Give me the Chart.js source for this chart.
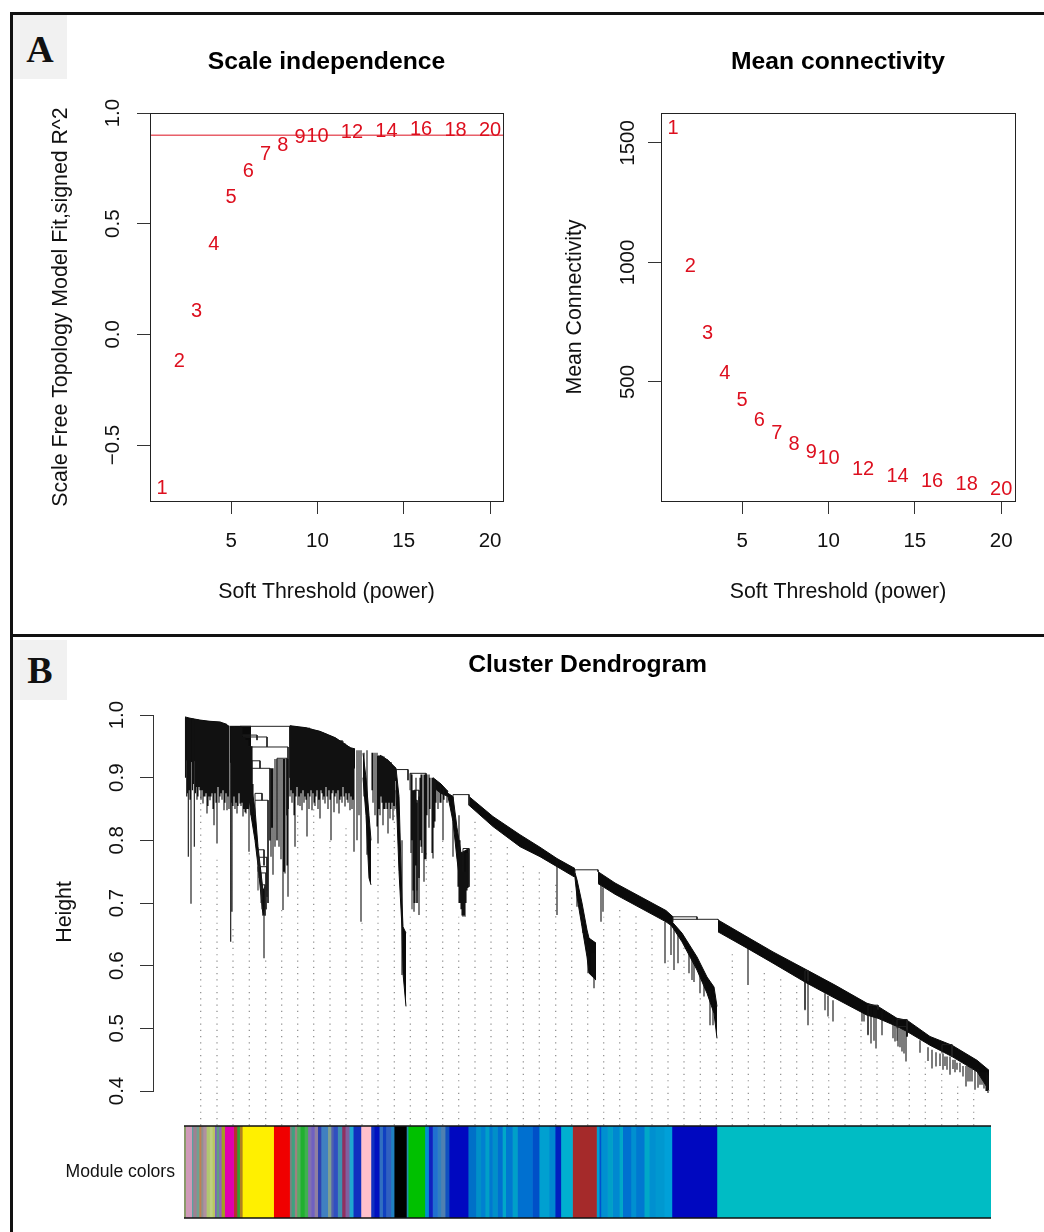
<!DOCTYPE html>
<html>
<head>
<meta charset="utf-8">
<title>WGCNA soft threshold and cluster dendrogram</title>
<script src="https://cdn.jsdelivr.net/npm/chart.js@4/dist/chart.umd.min.js"></script>
<style>
  html, body { margin: 0; padding: 0; background: #fff; }
  body { position: relative; width: 1044px; height: 1232px; overflow: hidden; }
  canvas { position: absolute; }
  .rule { position: absolute; background: #111; }
  .tag {
    position: absolute; left: 13px; width: 54px; background: #f1f1f1;
    font: bold 38px "Liberation Serif", serif; color: #111;
    display: flex; align-items: center; justify-content: center;
  }
</style>
</head>
<body>
<div class="rule" style="left:10px;top:12px;width:1034px;height:3px"></div>
<div class="rule" style="left:10px;top:12px;width:3px;height:1220px"></div>
<div class="rule" style="left:10px;top:634px;width:1034px;height:3px"></div>
<div class="tag" style="top:15px;height:61px;padding-top:3px">A</div>
<div class="tag" style="top:640px;height:60px">B</div>
<canvas id="scaleChart" width="516" height="620" style="left:12px;top:15px"></canvas>
<canvas id="connectChart" width="504" height="620" style="left:540px;top:15px"></canvas>
<canvas id="dendroChart" width="1032" height="493" style="left:12px;top:637px"></canvas>
<canvas id="moduleChart" width="1044" height="140" style="left:0;top:1100px"></canvas>

<script>
const SANS = '"Liberation Sans", Arial, sans-serif';

// Panel A
const powers = [1, 2, 3, 4, 5, 6, 7, 8, 9, 10, 12, 14, 16, 18, 20];
const signedR2 = [-0.69, -0.12, 0.11, 0.41, 0.625, 0.74, 0.815, 0.86, 0.895, 0.9, 0.915, 0.92, 0.93, 0.925, 0.925];
const meanConnectivity = [1563, 988, 709, 538, 425, 345, 287, 241, 211, 182, 136, 107, 86, 74, 56];
const r2Cutoff = 0.9;
const powerTicks = [5, 10, 15, 20];
const r2Ticks = [-0.5, 0, 0.5, 1];
const connectivityTicks = [500, 1000, 1500];

// Panel B: x is leaf position along the dendrogram, y is merge height
const heightTicks = [0.4, 0.5, 0.6, 0.7, 0.8, 0.9, 1.0];

// solid black parts of the tree, each one a top and a bottom outline
const ribbonLeaf = [
  [0, 5, 15, 25, 35, 42],
  [45, 52, 60, 66],
  [105, 120, 135, 150, 165, 170],
  [195, 203, 211],
  [248, 256, 263],
  [284, 308, 335, 355, 372, 390],
  [413, 430, 481, 488],
  [533, 562, 588, 622, 650, 682, 693, 712, 722, 745, 767, 792, 804],
  [390, 392, 397, 402, 404, 411],
  [486, 497, 512, 522, 529, 532],
  [211, 214, 217, 218, 221],
  [263, 268, 272, 276, 284],
  [62, 66, 70, 73, 78, 80],
  [178, 181, 184, 186]
];
const ribbonTop = [
  [0.997, 0.995, 0.992, 0.99, 0.989, 0.985],
  [0.982, 0.982, 0.982, 0.982],
  [0.983, 0.98, 0.974, 0.964, 0.948, 0.946],
  [0.936, 0.928, 0.915],
  [0.9, 0.89, 0.878],
  [0.87, 0.838, 0.809, 0.789, 0.771, 0.755],
  [0.75, 0.732, 0.688, 0.678],
  [0.673, 0.646, 0.622, 0.593, 0.569, 0.54, 0.535, 0.516, 0.513, 0.487, 0.473, 0.449, 0.433],
  [0.748, 0.737, 0.7, 0.657, 0.644, 0.636],
  [0.672, 0.652, 0.614, 0.582, 0.566, 0.535],
  [0.915, 0.87, 0.7, 0.662, 0.652],
  [0.875, 0.87, 0.82, 0.78, 0.787],
  [0.94, 0.89, 0.85, 0.79, 0.72, 0.726],
  [0.939, 0.9, 0.84, 0.8]
];
const ribbonBottom = [
  [0.93, 0.925, 0.93, 0.93, 0.935, 0.92],
  [0.925, 0.92, 0.925, 0.92],
  [0.93, 0.935, 0.935, 0.93, 0.92, 0.915],
  [0.91, 0.905, 0.895],
  [0.885, 0.875, 0.87],
  [0.856, 0.822, 0.79, 0.774, 0.758, 0.741],
  [0.731, 0.714, 0.67, 0.662],
  [0.654, 0.628, 0.604, 0.572, 0.548, 0.521, 0.516, 0.503, 0.495, 0.473, 0.455, 0.431, 0.401],
  [0.74, 0.71, 0.662, 0.614, 0.588, 0.577],
  [0.665, 0.638, 0.593, 0.556, 0.524, 0.484],
  [0.88, 0.75, 0.66, 0.588, 0.535],
  [0.87, 0.83, 0.77, 0.72, 0.726],
  [0.9, 0.84, 0.8, 0.76, 0.68, 0.694],
  [0.9, 0.84, 0.74, 0.729]
];

// single hanging branches
const dropLeaf = [1.7, 3.3, 6, 9.3, 12, 15, 18, 20, 22, 25, 27, 29, 31, 32, 35, 37, 39, 42, 44, 45.7, 47, 50, 52, 55, 56, 58, 60, 61, 63, 64, 66, 68,
  79, 86, 88, 92, 98, 100, 103, 105, 107, 109, 110, 113, 115, 117, 119, 122, 124, 127, 130, 133, 135, 138, 140, 143, 146, 149, 152, 154, 157, 160, 163, 165, 167, 169,
  172, 176, 182, 190, 192, 193, 195, 198, 200, 203, 205, 208, 217, 227, 229, 231, 234, 236, 239, 241, 244, 248, 250, 253, 256, 258, 268, 273, 278, 280,
  372, 392, 398, 401, 403, 407, 409, 416, 418, 480, 486, 489, 493, 504, 507, 509, 515, 519, 525, 528,
  563, 620, 623, 640, 643, 648, 677, 679, 683, 686, 689, 691, 697, 708, 710, 713, 717, 721, 722,
  735, 743, 747, 751, 758, 762, 765, 772, 778, 781, 787, 790, 795, 799, 803,
  0.5, 2.5, 4, 5, 7.5, 8.5, 10.5, 11, 13, 14, 16, 17, 19, 21, 23, 24, 26, 28, 30, 33, 34, 36, 38, 40, 41, 43,
  46, 48, 49, 51, 53, 54, 57, 59, 62, 65, 67,
  87, 90, 94, 96, 99, 102,
  106, 108, 111, 112, 114, 116, 118, 120, 121, 123, 125, 126, 128, 129, 131, 132, 134, 136, 137, 139, 141, 142, 144, 145, 147, 148, 150, 151, 153, 155, 156, 158, 159, 161, 162, 164, 166, 168,
  174, 179, 187, 188, 194, 196, 197, 199, 201, 202, 204, 206, 207, 209, 210,
  226, 228, 230, 232, 235, 237, 240, 242, 245, 247, 249, 251, 255, 259, 262,
  274, 275, 276, 277, 279, 281, 282, 283,
  715, 719, 755, 760, 768, 770, 775, 783, 785, 793, 797, 801, 802];
const dropTop = [0.995, 0.995, 0.994, 0.993, 0.993, 0.992, 0.991, 0.99, 0.99, 0.99, 0.99, 0.989, 0.989, 0.989, 0.989, 0.987, 0.985, 0.985, 0.983, 0.98, 0.98, 0.982, 0.982, 0.982, 0.982, 0.965, 0.965, 0.96, 0.96, 0.949, 0.95, 0.89,
  0.72, 0.915, 0.915, 0.93, 0.93, 0.93, 0.93, 0.983, 0.982, 0.982, 0.982, 0.98, 0.98, 0.98, 0.98, 0.98, 0.98, 0.977, 0.975, 0.975, 0.974, 0.972, 0.97, 0.968, 0.966, 0.964, 0.962, 0.96, 0.96, 0.955, 0.95, 0.947, 0.946, 0.945,
  0.944, 0.944, 0.944, 0.94, 0.94, 0.935, 0.935, 0.934, 0.93, 0.928, 0.922, 0.916, 0.8, 0.905, 0.88, 0.9, 0.87, 0.905, 0.905, 0.905, 0.905, 0.9, 0.897, 0.893, 0.888, 0.885, 0.87, 0.79, 0.75, 0.75,
  0.769, 0.72, 0.68, 0.66, 0.63, 0.62, 0.62, 0.731, 0.725, 0.67, 0.665, 0.662, 0.655, 0.625, 0.615, 0.61, 0.585, 0.575, 0.56, 0.55,
  0.628, 0.577, 0.575, 0.556, 0.552, 0.545, 0.527, 0.525, 0.537, 0.535, 0.535, 0.535, 0.53, 0.514, 0.51, 0.505, 0.5, 0.498, 0.496,
  0.481, 0.47, 0.466, 0.462, 0.46, 0.455, 0.455, 0.445, 0.44, 0.44, 0.435, 0.435, 0.43, 0.43, 0.425,
  0.996, 0.995, 0.995, 0.995, 0.994, 0.994, 0.993, 0.993, 0.993, 0.992, 0.992, 0.991, 0.991, 0.99, 0.99, 0.99, 0.99, 0.99, 0.989, 0.989, 0.989, 0.988, 0.987, 0.986, 0.985, 0.984,
  0.98, 0.98, 0.981, 0.982, 0.982, 0.982, 0.98, 0.965, 0.96, 0.95, 0.95,
  0.915, 0.93, 0.93, 0.93, 0.93, 0.93,
  0.983, 0.982, 0.982, 0.982, 0.981, 0.98, 0.98, 0.98, 0.98, 0.979, 0.978, 0.978, 0.976, 0.976, 0.975, 0.975, 0.974, 0.973, 0.973, 0.971, 0.97, 0.969, 0.968, 0.967, 0.965, 0.965, 0.964, 0.963, 0.961, 0.96, 0.959, 0.958, 0.955, 0.953, 0.952, 0.95, 0.947, 0.946,
  0.944, 0.94, 0.94, 0.94, 0.936, 0.935, 0.935, 0.934, 0.93, 0.93, 0.926, 0.925, 0.92, 0.918, 0.917,
  0.907, 0.88, 0.88, 0.86, 0.9, 0.905, 0.905, 0.905, 0.9, 0.9, 0.897, 0.895, 0.89, 0.884, 0.88,
  0.84, 0.8, 0.78, 0.78, 0.78, 0.78, 0.78, 0.78,
  0.5, 0.498, 0.46, 0.455, 0.45, 0.45, 0.445, 0.44, 0.44, 0.435, 0.43, 0.43, 0.43];
const dropTip = [0.87, 0.774, 0.699, 0.79, 0.865, 0.88, 0.859, 0.87, 0.843, 0.864, 0.875, 0.824, 0.86, 0.795, 0.87, 0.865, 0.848, 0.848, 0.85, 0.638, 0.686, 0.85, 0.843, 0.859, 0.855, 0.838, 0.845, 0.843, 0.85, 0.782, 0.84, 0.83,
  0.612, 0.774, 0.745, 0.8, 0.689, 0.747, 0.71, 0.87, 0.86, 0.84, 0.79, 0.856, 0.855, 0.848, 0.86, 0.806, 0.85, 0.848, 0.855, 0.85, 0.835, 0.865, 0.859, 0.85, 0.8, 0.845, 0.859, 0.843, 0.86, 0.854, 0.86, 0.848, 0.85, 0.782,
  0.8, 0.67, 0.777, 0.84, 0.822, 0.795, 0.84, 0.824, 0.85, 0.811, 0.835, 0.832, 0.585, 0.8, 0.686, 0.76, 0.681, 0.79, 0.734, 0.77, 0.82, 0.771, 0.83, 0.85, 0.86, 0.8, 0.774, 0.726, 0.678, 0.678,
  0.681, 0.694, 0.652, 0.63, 0.588, 0.585, 0.564, 0.67, 0.686, 0.604, 0.617, 0.593, 0.604, 0.588, 0.577, 0.574, 0.556, 0.551, 0.505, 0.505,
  0.569, 0.529, 0.505, 0.529, 0.519, 0.511, 0.511, 0.511, 0.489, 0.476, 0.48, 0.468, 0.489, 0.484, 0.479, 0.471, 0.463, 0.447, 0.487,
  0.461, 0.448, 0.436, 0.439, 0.434, 0.434, 0.426, 0.434, 0.423, 0.407, 0.415, 0.402, 0.41, 0.404, 0.397,
  0.9, 0.875, 0.88, 0.865, 0.88, 0.89, 0.875, 0.885, 0.87, 0.885, 0.865, 0.88, 0.87, 0.875, 0.855, 0.87, 0.87, 0.85, 0.875, 0.885, 0.86, 0.875, 0.88, 0.86, 0.875, 0.87,
  0.86, 0.855, 0.87, 0.86, 0.855, 0.875, 0.86, 0.85, 0.85, 0.86, 0.845,
  0.82, 0.79, 0.79, 0.77, 0.75, 0.76,
  0.88, 0.875, 0.87, 0.885, 0.87, 0.875, 0.88, 0.87, 0.865, 0.875, 0.87, 0.88, 0.875, 0.86, 0.87, 0.88, 0.865, 0.88, 0.875, 0.87, 0.885, 0.87, 0.88, 0.865, 0.875, 0.88, 0.87, 0.875, 0.88, 0.865, 0.87, 0.885, 0.87, 0.875, 0.865, 0.875, 0.87, 0.865,
  0.84, 0.87, 0.88, 0.86, 0.85, 0.87, 0.86, 0.85, 0.86, 0.85, 0.86, 0.85, 0.86, 0.855, 0.85,
  0.78, 0.72, 0.7, 0.72, 0.8, 0.78, 0.77, 0.84, 0.85, 0.78, 0.82, 0.86, 0.86, 0.865, 0.86,
  0.7, 0.7, 0.69, 0.68, 0.68, 0.7, 0.72, 0.73,
  0.47, 0.46, 0.44, 0.44, 0.435, 0.43, 0.43, 0.415, 0.415, 0.405, 0.41, 0.4, 0.4];

// merges: from, to, height, and how far each leg reaches down
const mergeFrom = [55, 58, 55, 63, 92, 67, 67, 70, 70, 73, 74, 73, 76, 77, 211, 225, 229, 227, 268, 278, 390, 488, 488, 620, 683, 712, 712, 757];
const mergeTo = [105, 82, 72, 103, 102, 75, 85, 77, 83, 79, 82, 82, 81, 80, 223, 241, 234, 232, 284, 284, 413, 533, 512, 623, 693, 722, 722, 767];
const mergeHeight = [0.982, 0.965, 0.968, 0.949, 0.931, 0.927, 0.915, 0.875, 0.864, 0.785, 0.773, 0.758, 0.748, 0.729, 0.913, 0.907, 0.88, 0.864, 0.873, 0.787, 0.753, 0.674, 0.678, 0.592, 0.537, 0.514, 0.503, 0.474];
const mergeLegFrom = [0.965, 0.955, 0.95, 0.94, 0.8, 0.915, 0.89, 0.864, 0.84, 0.75, 0.74, 0.72, 0.7, 0.69, 0.9, 0.88, 0.7, 0.69, 0.87, 0.7, 0.745, 0.67, 0.674, 0.53, 0.49, 0.5, 0.48, 0.46];
const mergeLegTo = [0.9, 0.949, 0.96, 0.85, 0.84, 0.915, 0.8, 0.864, 0.7, 0.76, 0.72, 0.71, 0.69, 0.68, 0.896, 0.87, 0.74, 0.7, 0.856, 0.726, 0.75, 0.673, 0.674, 0.575, 0.53, 0.487, 0.49, 0.455];

// dotted guide lines under the leaves
const guideLeaf = [15.7, 32, 48, 64.3, 80.7, 96.7, 112.7, 128.7, 145, 161, 177, 193, 209.3, 225.3, 241.3, 257.7, 273.7, 290, 306, 322.3,
  338.3, 354.3, 370.7, 386.7, 402.7, 418.7, 434.7, 451, 467, 483, 499, 515.3, 531.3, 547.3, 563.3, 579.3, 595.7, 611.7, 627.7, 643.7, 660, 676, 692, 708, 724.3, 740.3, 756.7, 772.7, 788.7];
const guideTop = [0.87, 0.774, 0.662, 0.78, 0.609, 0.689, 0.843, 0.859, 0.8, 0.827, 0.67, 0.795, 0.875, 0.678, 0.785, 0.8, 0.678, 0.832, 0.81, 0.79,
  0.766, 0.75, 0.731, 0.723, 0.577, 0.678, 0.689, 0.681, 0.665, 0.609, 0.641, 0.551, 0.481, 0.622, 0.566, 0.596, 0.58, 0.572, 0.556, 0.519, 0.521, 0.508, 0.465, 0.463, 0.444, 0.447, 0.428, 0.407, 0.396];
const guideBottom = 0.345;

// module colour strip, left to right
const moduleColors = ['#8a9a6a', '#d09ab8', '#5aa0a0', '#a08090', '#70a090', '#c08050', '#909090', '#b090a0', '#b0c870', '#c0d080', '#b8c860', '#8060c0', '#60a080', '#9060c0', '#a0a020', '#e000b0', '#b83030', '#30a030', '#b08020', '#fff000', '#f00000',
  '#808080', '#40a080', '#a08080', '#50b060', '#20b030', '#40b050', '#8070b0', '#7060c0', '#9080a0', '#3040b0', '#4080c0', '#80a090', '#5060b0', '#3050c0', '#4090b0', '#903060', '#8060a0', '#20a8d0', '#1030c0', '#ffc0cb',
  '#1030c0', '#0010c0', '#3070c0', '#1040c0', '#3060c0', '#2080c0', '#000000', '#2090b0', '#00c000', '#0090d0', '#1020c0', '#2070d0', '#3080c0', '#5080b0', '#1050c0', '#0008c0',
  '#0070c8', '#0090c8', '#0080d0', '#00a0c8', '#0078d0', '#0090c8', '#0070d0', '#00a8c8', '#0078d0', '#00a0c8', '#0070d0', '#0050c8', '#00a0d0', '#0088d0', '#0020c0', '#00b0d0', '#a52a2a',
  '#00a0d0', '#0050d0', '#0090d0', '#00a0c8', '#0088d0', '#00a8c8', '#0070d0', '#0090d0', '#0078d0', '#00a8c8', '#0090d0', '#0098d0', '#00a0d8', '#0008c0', '#00bcc4'];
const moduleWidths = [1.7, 6, 1.3, 3.3, 2.7, 2, 2, 3.3, 3.3, 2.7, 2.3, 1.7, 2.7, 2.3, 3.3, 9, 3.3, 2.7, 2.7, 31.3, 16,
  1.7, 3.3, 2.3, 3.3, 4.3, 3.3, 3.3, 3.3, 3.3, 3.3, 6.7, 3.3, 2.3, 4.3, 4.3, 3.3, 4, 4, 7.7, 10,
  3.3, 5, 3.3, 3.3, 5, 3.3, 12.3, 1.7, 16.7, 3.7, 4, 5, 3.3, 4.3, 4, 19,
  7.7, 5, 4.3, 4, 3.3, 5, 5, 3.3, 6.7, 5, 15, 6.7, 10, 6, 5.7, 11.7, 24,
  2.7, 1.7, 6.7, 5, 6.7, 3.3, 8.3, 5, 8.3, 5, 6, 9, 7.7, 45, 274];

// draws the box round a plot, as R does
const framePlugin = {
  id: 'frame',
  afterDatasetsDraw(chart) {
    const a = chart.chartArea, ctx = chart.ctx;
    ctx.save();
    ctx.strokeStyle = '#222';
    ctx.lineWidth = 1;
    ctx.strokeRect(Math.round(a.left) + 0.5, Math.round(a.top) + 0.5, Math.round(a.width), Math.round(a.height));
    ctx.restore();
  }
};

// writes the power number in place of each point
const powerLabelPlugin = {
  id: 'powerLabels',
  afterDatasetsDraw(chart) {
    const ctx = chart.ctx, pts = chart.getDatasetMeta(0).data;
    ctx.save();
    ctx.fillStyle = '#dd0f1e';
    ctx.font = '20px ' + SANS;
    ctx.textAlign = 'center';
    ctx.textBaseline = 'middle';
    pts.forEach((p, i) => ctx.fillText(String(powers[i]), p.x, p.y + 1));
    ctx.restore();
  }
};

const fixedTicks = values => scale => { scale.ticks = values.map(v => ({ value: v })); };

function panelChart(id, values, title, yTitle, yMin, yMax, yTicks, yFormat, opts) {
  const datasets = [{ data: values.map((v, i) => ({ x: powers[i], y: v })), showLine: false, pointRadius: 0 }];
  if (opts.cutoff !== undefined) {
    datasets.push({
      data: [{ x: opts.xMin, y: opts.cutoff }, { x: opts.xMax, y: opts.cutoff }],
      showLine: true, borderColor: '#dd0f1e', borderWidth: 1, pointRadius: 0
    });
  }
  return new Chart(document.getElementById(id), {
    type: 'scatter',
    data: { datasets },
    plugins: [framePlugin, powerLabelPlugin],
    options: {
      responsive: false,
      animation: false,
      events: [],
      layout: { padding: { right: opts.right } },
      plugins: {
        legend: { display: false },
        tooltip: { enabled: false },
        title: {
          display: true, text: title, fullSize: false, color: '#000',
          font: { family: SANS, size: 24.7, weight: 'bold' },
          padding: { top: 32, bottom: 36.4 }
        }
      },
      scales: {
        x: {
          type: 'linear', min: opts.xMin, max: opts.xMax,
          afterBuildTicks: fixedTicks(powerTicks),
          afterFit: s => { s.height = 134; },
          grid: { drawOnChartArea: false, tickLength: 13, color: '#333' },
          border: { display: false },
          ticks: { color: '#111', font: { family: SANS, size: 20.5 }, padding: 15.5, maxRotation: 0, autoSkip: false },
          title: { display: true, text: 'Soft Threshold (power)', color: '#111', font: { family: SANS, size: 21.3 }, padding: { top: 0, bottom: 30 } }
        },
        y: {
          type: 'linear', min: yMin, max: yMax,
          afterBuildTicks: fixedTicks(yTicks),
          afterFit: s => { s.width = opts.axisWidth; },
          grid: { drawOnChartArea: false, tickLength: 13, color: '#333' },
          border: { display: false },
          ticks: {
            color: '#111', font: { family: SANS, size: 20.5 }, minRotation: 90, maxRotation: 90,
            crossAlign: 'center', padding: opts.tickPad, autoSkip: false, callback: yFormat
          },
          title: { display: true, text: yTitle, color: '#111', font: { family: SANS, size: 21.3 }, padding: { top: opts.titlePad, bottom: 0 } }
        }
      }
    }
  });
}

panelChart('scaleChart', signedR2, 'Scale independence', 'Scale Free Topology Model Fit,signed R^2',
  -0.753, 1.0, r2Ticks, v => v.toFixed(1).replace('-', '\u2212'),
  { xMin: 0.3, xMax: 20.75, cutoff: r2Cutoff, right: 25, axisWidth: 138, tickPad: 3.5, titlePad: 36 });

panelChart('connectChart', meanConnectivity, 'Mean connectivity', 'Mean Connectivity',
  2, 1625, connectivityTicks, v => String(v),
  { xMin: 0.3, xMax: 20.8, right: 29, axisWidth: 121, tickPad: -3, titlePad: 22 });

// Panel B datasets
const dendroSets = [];

const guidePts = [];
guideLeaf.forEach((x, i) => {
  guidePts.push({ x, y: guideBottom }, { x, y: guideTop[i] }, { x, y: null });
});
dendroSets.push({ data: guidePts, borderColor: '#8a8a8a', borderWidth: 1.2, borderDash: [1.2, 5.1], pointRadius: 0, fill: false, order: 5, clip: false });

ribbonLeaf.forEach((xs, r) => {
  dendroSets.push({
    data: xs.map((x, i) => ({ x, y: ribbonTop[r][i] })),
    borderColor: '#0a0a0a', backgroundColor: '#0a0a0a', borderWidth: 1, pointRadius: 0, fill: '+1', order: 2, clip: false
  });
  dendroSets.push({
    data: xs.map((x, i) => ({ x, y: ribbonBottom[r][i] })),
    borderColor: '#0a0a0a', borderWidth: 1, pointRadius: 0, fill: false, order: 2, clip: false
  });
});

const dropPts = [];
dropLeaf.forEach((x, i) => {
  dropPts.push({ x, y: dropTop[i] }, { x, y: dropTip[i] }, { x, y: null });
});
dendroSets.push({ data: dropPts, borderColor: '#111', borderWidth: 1.1, pointRadius: 0, fill: false, order: 1, clip: false });

const mergePts = [];
mergeFrom.forEach((x, i) => {
  mergePts.push(
    { x, y: mergeLegFrom[i] }, { x, y: mergeHeight[i] },
    { x: mergeTo[i], y: mergeHeight[i] }, { x: mergeTo[i], y: mergeLegTo[i] },
    { x, y: null }
  );
});
dendroSets.push({ data: mergePts, borderColor: '#222', borderWidth: 1, pointRadius: 0, fill: false, order: 1, clip: false });

new Chart(document.getElementById('dendroChart'), {
  type: 'line',
  data: { datasets: dendroSets },
  options: {
    responsive: false,
    animation: false,
    events: [],
    layout: { padding: { right: 22, bottom: 39 } },
    plugins: {
      legend: { display: false },
      tooltip: { enabled: false },
      title: {
        display: true, text: 'Cluster Dendrogram', fullSize: false, color: '#000',
        font: { family: SANS, size: 24.7, weight: 'bold' },
        padding: { top: 13, bottom: 35.4 }
      }
    },
    scales: {
      x: { type: 'linear', min: -32, max: 837, display: false },
      y: {
        type: 'linear', min: 0.4, max: 1.0,
        afterBuildTicks: fixedTicks(heightTicks),
        afterFit: s => { s.width = 141; },
        grid: { drawOnChartArea: false, tickLength: 13, color: '#333' },
        border: { display: true, color: '#333', width: 1 },
        ticks: {
          color: '#111', font: { family: SANS, size: 20.5 }, minRotation: 90, maxRotation: 90,
          crossAlign: 'center', padding: 8.5, autoSkip: false, callback: v => v.toFixed(1)
        },
        // trailing spaces push the word down the axis, R centres it lower than the tick span
        title: { display: true, text: 'Height   ', color: '#111', font: { family: SANS, size: 21.3 }, padding: { top: 40, bottom: 0 } }
      }
    }
  }
});

// strip of module colours, top and bottom rules added by plugin
const stripRules = {
  id: 'stripRules',
  afterDatasetsDraw(chart) {
    const a = chart.chartArea, ctx = chart.ctx;
    ctx.save();
    ctx.strokeStyle = '#111';
    ctx.lineWidth = 1.5;
    ctx.beginPath();
    ctx.moveTo(a.left, a.top);
    ctx.lineTo(a.right, a.top);
    ctx.moveTo(a.left, a.bottom);
    ctx.lineTo(a.right, a.bottom);
    ctx.stroke();
    ctx.restore();
  }
};

new Chart(document.getElementById('moduleChart'), {
  type: 'bar',
  data: {
    labels: ['Module colors'],
    datasets: moduleColors.map((c, i) => ({
      data: [moduleWidths[i]], backgroundColor: c, borderWidth: 0, barPercentage: 1, categoryPercentage: 1
    }))
  },
  plugins: [stripRules],
  options: {
    indexAxis: 'y',
    responsive: false,
    animation: false,
    events: [],
    layout: { padding: { top: 26, bottom: 22, right: 53 } },
    plugins: { legend: { display: false }, tooltip: { enabled: false } },
    scales: {
      x: { type: 'linear', stacked: true, min: 0, max: 807, display: false },
      y: {
        stacked: true,
        afterFit: s => { s.width = 184; },
        grid: { display: false, drawTicks: false },
        border: { display: false },
        ticks: { color: '#111', font: { family: SANS, size: 17.6 }, padding: 9 }
      }
    }
  }
});
</script>
</body>
</html>
